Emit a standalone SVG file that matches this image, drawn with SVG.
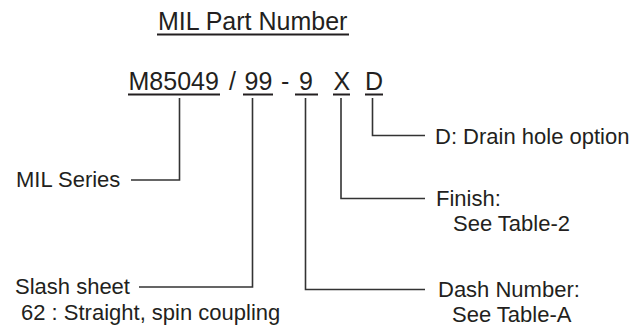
<svg xmlns="http://www.w3.org/2000/svg" width="644" height="327" viewBox="0 0 644 327">
<style>
  text { font-family: "Liberation Sans", Arial, Helvetica, sans-serif; fill: #231f20; }
  .big { font-size: 25px; }
  .lbl { font-size: 22px; }
  .ul { stroke: #231f20; stroke-width: 2; fill: none; }
  .conn { stroke: #333; stroke-width: 1.6; fill: none; }
</style>
<rect width="644" height="327" fill="#fff"/>
<g id="title">
  <text class="big" x="158" y="30">MIL Part Number</text>
  <line class="ul" x1="157" y1="34.5" x2="349" y2="34.5"/>
</g>
<g id="part-number">
  <text class="big" x="128.5" y="90">M85049</text>
  <line class="ul" x1="128" y1="94.5" x2="220" y2="94.5"/>
  <text class="big" x="229" y="90">/</text>
  <text class="big" x="244.5" y="90">99</text>
  <line class="ul" x1="243" y1="94.5" x2="273" y2="94.5"/>
  <text class="big" x="281" y="90">-</text>
  <text class="big" x="299" y="90">9</text>
  <line class="ul" x1="295" y1="94.5" x2="318" y2="94.5"/>
  <text class="big" x="333.5" y="90">X</text>
  <line class="ul" x1="333" y1="94.5" x2="350" y2="94.5"/>
  <text class="big" x="365" y="90">D</text>
  <line class="ul" x1="365" y1="94.5" x2="383" y2="94.5"/>
</g>
<g id="mil-series">
  <text class="lbl" x="16" y="187">MIL Series</text>
</g>
<g id="slash-sheet">
  <text class="lbl" x="15" y="294">Slash sheet</text>
  <text class="lbl" x="21" y="320">62 :  Straight, spin coupling</text>
</g>
<g id="drain">
  <text class="lbl" x="435" y="144">D: Drain hole option</text>
</g>
<g id="finish">
  <text class="lbl" x="436" y="206">Finish:</text>
  <text class="lbl" x="453" y="231">See Table-2</text>
</g>
<g id="dash">
  <text class="lbl" x="438" y="297">Dash Number:</text>
  <text class="lbl" x="452" y="322">See Table-A</text>
</g>
<g id="connectors">
  <polyline class="conn" points="179.5,98 179.5,180 131,180"/>
  <polyline class="conn" points="252.5,98 252.5,287 139,287"/>
  <polyline class="conn" points="305.5,98 305.5,289.5 425,289.5"/>
  <polyline class="conn" points="341,98 341,198.5 425,198.5"/>
  <polyline class="conn" points="372.5,98 372.5,135.5 425,135.5"/>
</g>
</svg>
